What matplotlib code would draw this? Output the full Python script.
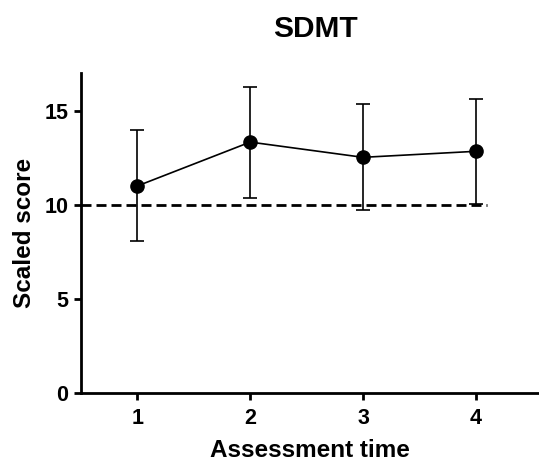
import matplotlib
matplotlib.use("Agg")
import matplotlib.pyplot as plt

# Scaled SDMT scores at each assessment (mean and SD)
times = [1, 2, 3, 4]
means = [11.0, 13.33, 12.52, 12.84]
sds = [2.95, 2.95, 2.82, 2.80]
norm_value = 10
tick_labels = ["1", "2", "3", "4"]
y_ticks = [0, 5, 10, 15]

plt.rcParams['font.family'] = ['Liberation Sans', 'DejaVu Sans']
plt.rcParams['font.weight'] = 'bold'

fig = plt.figure(figsize=(5.39, 4.68), dpi=100)
ax = fig.add_axes([81 / 539, 1 - 393 / 468, 1 - 81 / 539, (393 - 73) / 468])

# reference norm line
ax.plot([0.5, 4.1], [norm_value, norm_value], color='black', lw=2.0,
        dashes=(3.6, 1.8), zorder=3, solid_capstyle='butt', dash_capstyle='butt')

ax.errorbar(times, means, yerr=sds, color='black', lw=1.2, elinewidth=1.2,
            capsize=4.7, capthick=1.2, marker='o', markersize=9.5,
            markerfacecolor='black', markeredgecolor='black', zorder=4)

ax.set_xlim(0.5, 4.56)
ax.set_ylim(0, 17)
ax.set_xticks(times)
ax.set_xticklabels(tick_labels)
ax.set_yticks(y_ticks)

for s in ['top', 'right']:
    ax.spines[s].set_visible(False)
for s in ['left', 'bottom']:
    ax.spines[s].set_linewidth(2.0)

ax.tick_params(axis='both', direction='out', width=2.0, length=5,
               labelsize=15.5, pad=4)
ax.tick_params(axis='x', pad=6)

ax.set_xlabel("Assessment time", fontsize=17.5, fontweight='bold', labelpad=7)
ax.set_ylabel("Scaled score", fontsize=17.5, fontweight='bold', labelpad=6)
fig.text(315 / 539, 1 - 29 / 468, "SDMT", fontsize=21.5, fontweight='bold',
         ha='center', va='center')

fig.savefig("out.png", dpi=100)
